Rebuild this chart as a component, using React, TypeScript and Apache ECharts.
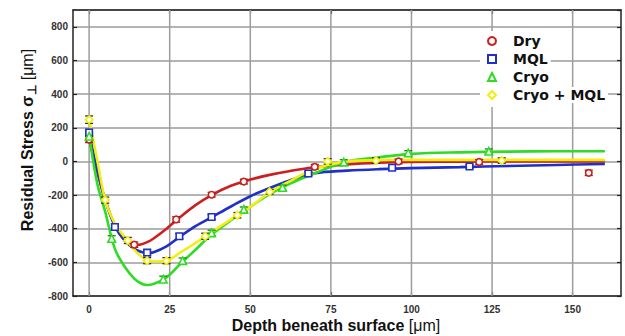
import React, { useEffect, useRef } from "react";
import * as echarts from "echarts";

// Tick positions along both axes
const depthTicks = [0, 25, 50, 75, 100, 125, 150];

// Measured residual stress (depth in μm) with error half-widths
const dryDepth = [0, 14, 27, 38, 48, 70, 96, 121, 155];
const dryStress = [130, -495, -345, -198, -120, -32, 0, -3, -68];
const dryErr = [18, 16, 16, 14, 14, 14, 14, 14, 16];

const mqlDepth = [0, 8, 18, 28, 38, 68, 94, 118];
const mqlStress = [172, -390, -542, -445, -330, -72, -38, -30];
const mqlErr = [18, 18, 16, 16, 14, 14, 12, 12];

const cryoDepth = [0, 7, 23, 29, 38, 48, 60, 79, 99, 124];
const cryoStress = [150, -458, -700, -590, -425, -285, -155, -4, 50, 60];
const cryoErr = [18, 16, 18, 16, 16, 14, 14, 14, 14, 14];

const cryoMqlDepth = [0, 5, 12, 18, 24, 36, 46, 56, 74, 89, 128];
const cryoMqlStress = [248, -230, -470, -590, -590, -445, -320, -180, 0, 5, 5];
const cryoMqlErr = [22, 18, 18, 18, 18, 18, 16, 14, 16, 16, 16];

// Fitted trend curves
const fitDepth = [0, 2.5, 5, 8, 11, 14, 16, 18, 20, 24, 28, 33, 38, 44, 50, 56, 62, 70, 80, 90, 100, 115, 130, 145, 160];
const dryFit = [130, -60, -230, -380, -465, -497, -494, -480, -458, -400, -335, -260, -200, -145, -108, -80, -58, -35, -18, -8, -3, -1, 0, 0, 0];
const mqlFit = [170, -50, -230, -385, -470, -520, -537, -545, -540, -505, -450, -385, -332, -268, -207, -158, -115, -70, -55, -46, -40, -34, -27, -21, -15];
const cryoFit = [160, -130, -300, -520, -625, -697, -724, -735, -728, -690, -615, -525, -435, -350, -270, -195, -135, -70, 0, 25, 45, 54, 58, 60, 60];
const cryoMqlFit = [250, 10, -230, -370, -450, -525, -562, -587, -595, -590, -545, -485, -420, -345, -270, -185, -120, -45, 0, 8, 9, 9, 9, 9, 9];

const RED = "#cc2020";
const BLUE = "#1f2fc8";
const GREEN = "#2fdc24";
const YELLOW = "#f2ee10";

const AX = "#222";
const GRIDC = "#9c9c9c";
const TICK_FONT = { fontFamily: "Liberation Sans, Arial, sans-serif", fontWeight: "bold" as const, fontSize: 10, color: "#333" };

function zip(xs: number[], ys: number[], es?: number[]) {
  return xs.map((x, i) => (es ? [x, ys[i], es[i]] : [x, ys[i]]));
}

function errorBars(name: string, xs: number[], ys: number[], es: number[], color: string) {
  return {
    name: name + " error",
    type: "custom",
    z: 3,
    data: zip(xs, ys, es),
    renderItem: (_params: any, api: any) => {
      const x = api.value(0);
      const y = api.value(1);
      const e = api.value(2);
      const top = api.coord([x, y + e]);
      const bot = api.coord([x, y - e]);
      const w = 4;
      const style = { stroke: color, lineWidth: 1.3 };
      return {
        type: "group",
        children: [
          { type: "line", shape: { x1: top[0], y1: top[1], x2: bot[0], y2: bot[1] }, style },
          { type: "line", shape: { x1: top[0] - w, y1: top[1], x2: top[0] + w, y2: top[1] }, style },
          { type: "line", shape: { x1: bot[0] - w, y1: bot[1], x2: bot[0] + w, y2: bot[1] }, style },
        ],
      };
    },
  };
}

// Vertical grid lines at the depth ticks, drawn through the axis scales
function depthGridLines() {
  return {
    name: "depth grid",
    type: "custom",
    z: 1,
    silent: true,
    data: depthTicks.map((v) => [v, 0]),
    renderItem: (_params: any, api: any) => {
      const v = api.value(0);
      const a = api.coord([v, -800]);
      const b = api.coord([v, 900]);
      return {
        type: "rect",
        shape: { x: a[0] - 0.75, y: b[1], width: 1.5, height: a[1] - b[1] },
        style: { fill: GRIDC },
      };
    },
  };
}

function fitLine(name: string, ys: number[], color: string) {
  return {
    name: name + " fit",
    type: "line",
    z: 2,
    smooth: 0.35,
    showSymbol: false,
    silent: true,
    data: zip(fitDepth, ys),
    lineStyle: { color, width: 2.6 },
  };
}

function markers(name: string, xs: number[], ys: number[], symbol: string, size: number, color: string) {
  return {
    name,
    type: "scatter",
    z: 4,
    symbol,
    symbolSize: size,
    data: zip(xs, ys),
    itemStyle: { color: "#ffffff", borderColor: color, borderWidth: 1.6, opacity: 1 },
  };
}

export default function App() {
  const ref = useRef<HTMLDivElement>(null);

  useEffect(() => {
    if (!ref.current) return;
    document.body.style.margin = "0";
    const chart = echarts.init(ref.current, null, { renderer: "svg" });

    const titleFont = "Liberation Sans, Arial, sans-serif";

    chart.setOption({
      animation: false,
      backgroundColor: "#ffffff",
      grid: { left: 73, right: 4, top: 10, bottom: 40, containLabel: false },
      xAxis: [
        {
          type: "value",
          position: "bottom",
          min: -5,
          max: 165,
          axisLine: { show: true, onZero: false, lineStyle: { color: AX, width: 1.5 } },
          axisTick: { show: true, inside: true, length: 4, customValues: depthTicks, lineStyle: { color: AX, width: 1.2 } },
          axisLabel: { ...TICK_FONT, customValues: depthTicks, margin: 8 },
          splitLine: { show: false },
        },
        {
          type: "value",
          position: "top",
          min: -5,
          max: 165,
          axisLine: { show: true, onZero: false, lineStyle: { color: AX, width: 1.5 } },
          axisTick: { show: true, inside: true, length: 4, customValues: depthTicks, lineStyle: { color: AX, width: 1.2 } },
          axisLabel: { show: false },
          splitLine: { show: false },
        },
      ],
      yAxis: [
        {
          type: "value",
          position: "left",
          min: -800,
          max: 900,
          interval: 200,
          axisLine: { show: true, onZero: false, lineStyle: { color: AX, width: 1.5 } },
          axisTick: { show: true, inside: true, length: 4, lineStyle: { color: AX, width: 1.2 } },
          axisLabel: { ...TICK_FONT, margin: 5, showMaxLabel: false },
          splitLine: { show: true, lineStyle: { color: GRIDC, width: 1.5, opacity: 1 } },
        },
        {
          type: "value",
          position: "right",
          min: -800,
          max: 900,
          interval: 200,
          axisLine: { show: true, onZero: false, lineStyle: { color: AX, width: 1.5 } },
          axisTick: { show: true, inside: true, length: 4, lineStyle: { color: AX, width: 1.2 } },
          axisLabel: { show: false },
          splitLine: { show: false },
        },
      ],
      legend: {
        left: 481,
        top: 29,
        orient: "vertical",
        data: ["Dry", "MQL", "Cryo", "Cryo + MQL"],
        itemWidth: 8,
        itemHeight: 8,
        itemGap: 2,
        padding: [4, 6, 4, 6],
        selectedMode: false,
        textStyle: {
          fontFamily: "DejaVu Sans, sans-serif",
          fontWeight: "bold",
          fontSize: 14,
          lineHeight: 16,
          color: "#111",
          backgroundColor: "#ffffff",
          padding: [0, 3, 0, 12],
        },
      },
      graphic: [
        {
          type: "rect",
          z: 3,
          silent: true,
          shape: { x: 480, y: 31, width: 26, height: 76 },
          style: { fill: "#ffffff" },
        },
        {
          type: "text",
          x: 27,
          y: 140,
          rotation: Math.PI / 2,
          style: {
            text: "{b|Residual Stress σ}{s|⊥}{n| [μm]}",
            align: "center",
            verticalAlign: "middle",
            fill: "#111",
            rich: {
              b: { fontFamily: titleFont, fontWeight: "bold", fontSize: 16, fill: "#111" },
              s: { fontFamily: titleFont, fontWeight: "bold", fontSize: 12, fill: "#111", padding: [9, 0, 0, 1] },
              n: { fontFamily: titleFont, fontWeight: "normal", fontSize: 16, fill: "#111" },
            },
          },
        },
        {
          type: "text",
          x: 336,
          y: 325,
          style: {
            text: "{b|Depth beneath surface }{n|[μm]}",
            align: "center",
            verticalAlign: "middle",
            fill: "#111",
            rich: {
              b: { fontFamily: titleFont, fontWeight: "bold", fontSize: 16, fill: "#111" },
              n: { fontFamily: titleFont, fontWeight: "normal", fontSize: 16, fill: "#111" },
            },
          },
        },
      ],
      series: [
        depthGridLines(),
        fitLine("Dry", dryFit, RED),
        fitLine("MQL", mqlFit, BLUE),
        fitLine("Cryo", cryoFit, GREEN),
        fitLine("Cryo + MQL", cryoMqlFit, YELLOW),
        errorBars("Dry", dryDepth, dryStress, dryErr, "#8a1a1a"),
        errorBars("MQL", mqlDepth, mqlStress, mqlErr, "#1a1f80"),
        errorBars("Cryo", cryoDepth, cryoStress, cryoErr, "#1f7a1a"),
        errorBars("Cryo + MQL", cryoMqlDepth, cryoMqlStress, cryoMqlErr, "#2a2a2a"),
        markers("Dry", dryDepth, dryStress, "circle", 6.5, RED),
        markers("MQL", mqlDepth, mqlStress, "rect", 6.5, BLUE),
        markers("Cryo", cryoDepth, cryoStress, "triangle", 7.5, GREEN),
        markers("Cryo + MQL", cryoMqlDepth, cryoMqlStress, "diamond", 7.5, YELLOW),
      ],
    });

    return () => chart.dispose();
  }, []);

  return <div ref={ref} style={{ width: 625, height: 336 }} />;
}
